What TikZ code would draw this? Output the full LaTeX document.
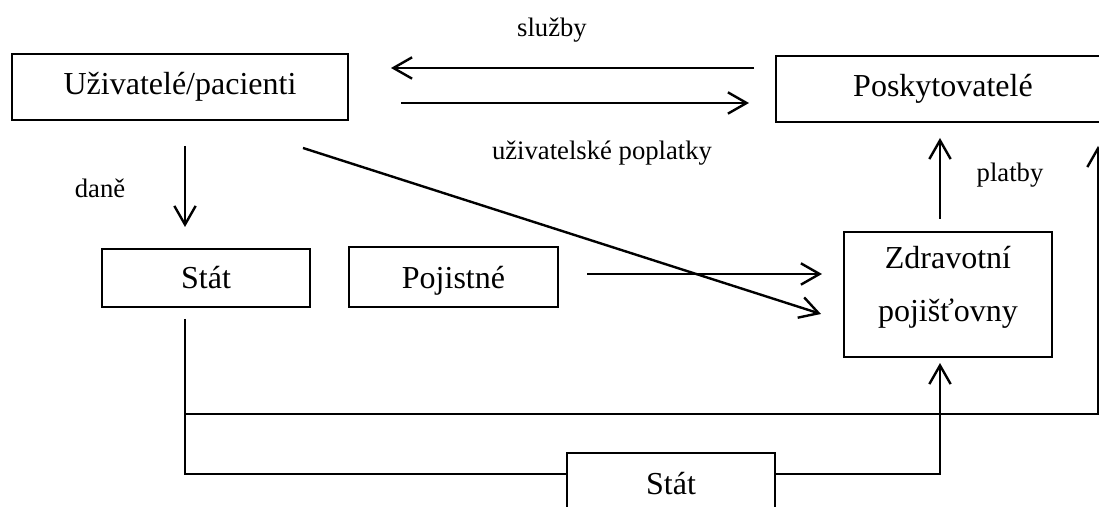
\documentclass[tikz,border=0pt]{standalone}
\usepackage{fontspec}
\setmainfont{Liberation Serif}
\usetikzlibrary{arrows.meta, calc}
\tikzset{
  flowBox/.style = {draw, line width=0.75pt, inner sep=0pt, align=center,
    font=\fontsize{12}{20}\selectfont},
  flowLine/.style = {line width=0.9pt},
  flowArrow/.style = {flowLine, -{Straight Barb[length=7pt, width=8pt, line width=0.9pt]}},
  flowLabel/.style = {font=\fontsize{10}{12}\selectfont}
}

\begin{document}
\begin{tikzpicture}[x=0.375pt, y=-0.375pt]
  \useasboundingbox (0,0) rectangle (1099,507);

  \node[flowBox, minimum width=126pt, minimum height=24.75pt] (users) at (180,87) {Uživatelé/pacienti};
  \node[flowBox, minimum width=125.25pt, minimum height=24.75pt] (providers) at (943,89) {Poskytovatelé};
  \node[flowBox, minimum width=78pt, minimum height=21.75pt] (state) at (206,278) {Stát};
  \node[flowBox, minimum width=78.4pt, minimum height=22.5pt, text depth=0pt] (premium) at (453.5,277) {Pojistné};
  \node[flowBox, minimum width=78pt, minimum height=46.9pt] (insurers) at (948,294.5) {Zdravotní\\pojišťovny\rule[-7.8pt]{0pt}{0pt}};
  \node[flowBox, minimum width=78pt, minimum height=23.25pt] (stateLow) at (671,484) {Stát};

  \node[flowLabel] (servicesLbl) at (552,30) {služby};
  \node[flowLabel] (feesLbl) at (602,153) {uživatelské poplatky};
  \node[flowLabel] (taxLbl) at (100,188) {daně};
  \node[flowLabel] (paymentsLbl) at (1010,175) {platby};

  \draw[flowArrow] ($(providers.west)+(-21,-21)$) -- ($(users.east)+(42,-19)$);
  \draw[flowArrow] ($(users.east)+(52,16)$) -- ($(providers.west)+(-26,14)$);
  \draw[flowArrow] ($(users.south east)+(-46,27)$) -- ($(insurers.west)+(-22,19.5)$);
  \draw[flowArrow] ($(premium.east)+(28,-3)$) -- ($(insurers.west)+(-21,-20.5)$);
  \draw[flowArrow] ($(users.south)+(5,25)$) -- ($(state.north)+(-21,-21)$);
  \draw[flowArrow] ($(insurers.north)+(-8,-12)$) -- ($(providers.south)+(-3,15)$);

  \coordinate (stateOut) at ($(state.south)+(-21,11)$);
  \coordinate (stateSplit) at ($(stateOut)+(0,95)$);
  \draw[flowLine] (stateOut) |- ($(stateLow.west)+(0,-10)$);
  \draw[flowArrow] ($(stateLow.east)+(0,-10)$) -| ($(insurers.south)+(-8,5)$);
  \draw[flowArrow] (stateSplit) -| ($(providers.south east)+(-13,23)$);
\end{tikzpicture}
\end{document}
